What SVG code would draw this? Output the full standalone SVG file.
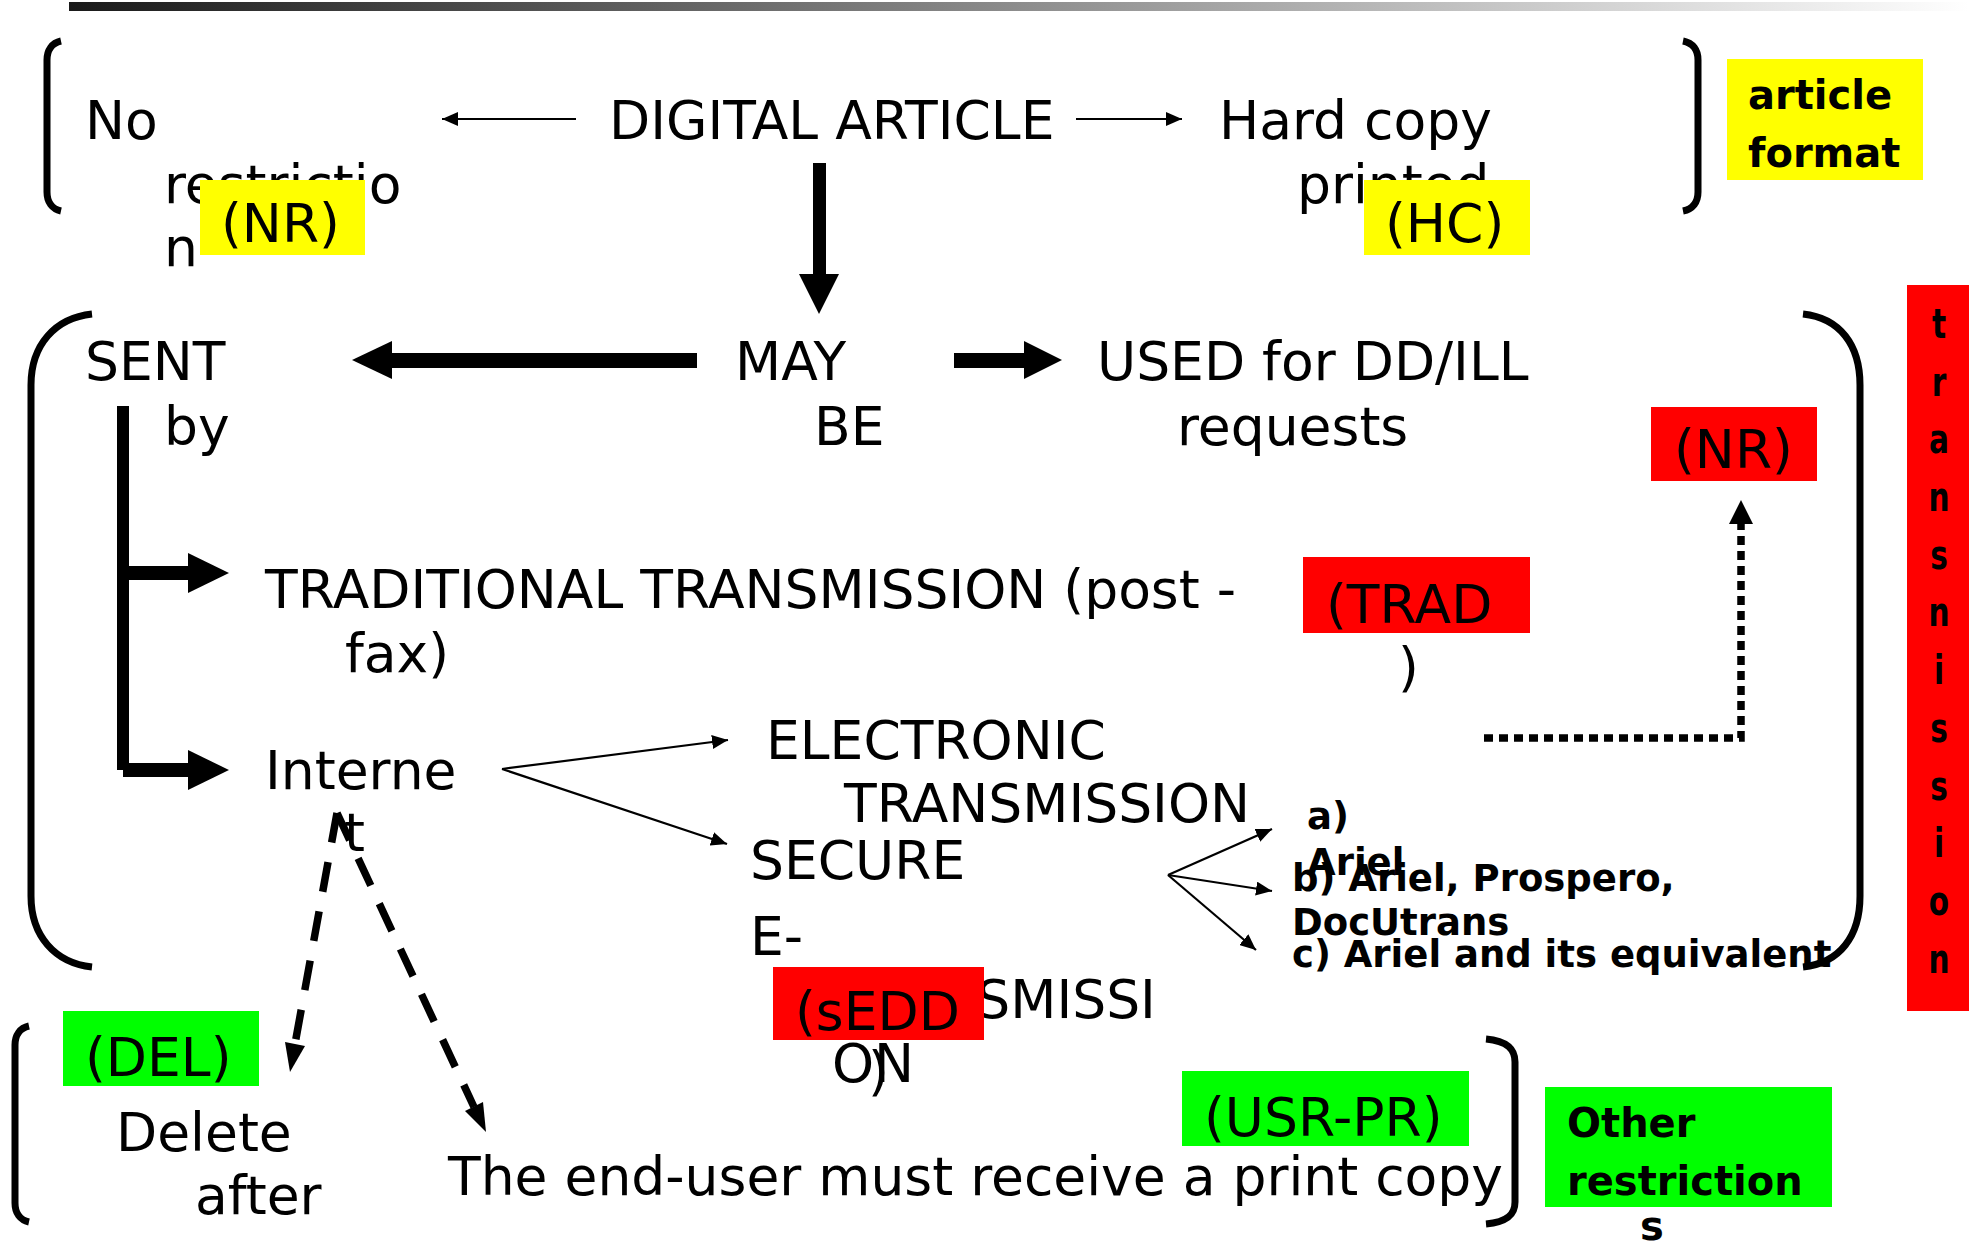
<svg xmlns="http://www.w3.org/2000/svg" width="1969" height="1247" viewBox="0 0 1969 1247">
<defs>
<linearGradient id="bar" x1="0" y1="0" x2="1" y2="0">
<stop offset="0" stop-color="#1a1a1a"/>
<stop offset="1" stop-color="#ffffff"/>
</linearGradient>
<marker id="thin" markerUnits="userSpaceOnUse" markerWidth="16" markerHeight="14" refX="16" refY="7" orient="auto">
<path d="M0,0 L16,7 L0,14 Z" fill="#000"/>
</marker>
</defs>
<style>
.t{font-family:"DejaVu Sans","Liberation Sans",sans-serif;font-size:53.5px;fill:#000}
.b{font-family:"DejaVu Sans","Liberation Sans",sans-serif;font-size:40px;font-weight:bold;fill:#000}
.s{font-family:"DejaVu Sans","Liberation Sans",sans-serif;font-size:37px;font-weight:bold;fill:#000}
.br{fill:none;stroke:#000;stroke-width:7}
.thin{fill:none;stroke:#000;stroke-width:2.2;marker-end:url(#thin)}
.dash{fill:none;stroke:#000;stroke-width:7.5;stroke-dasharray:30 20}
.y{fill:#ffff00}.r{fill:#ff0000}.g{fill:#00ff00}
</style>
<rect width="1969" height="1247" fill="#fff"/>
<rect x="69" y="2" width="1900" height="9" fill="url(#bar)"/>

<g id="brackets">
<path class="br" d="M61,41 C52,43 47,50 47,60 L47,192 C47,202 52,209 61,211"/>
<path class="br" d="M1683,41 C1693,43 1698,50 1698,60 L1698,192 C1698,202 1693,209 1683,211"/>
<path class="br" d="M92,314 C55,318 31,345 31,385 L31,896 C31,936 55,963 92,967"/>
<path class="br" d="M1803,314 C1840,318 1860,345 1860,385 L1860,896 C1860,936 1840,963 1803,967"/>
<path class="br" d="M29,1026 C20,1028 15,1035 15,1045 L15,1203 C15,1213 20,1220 29,1222"/>
<path class="br" d="M1486,1039 C1508,1041 1515,1050 1515,1062 L1515,1202 C1515,1214 1508,1222 1486,1224"/>
</g>

<g id="connectors">
<path class="thin" d="M576,119 L442,119"/>
<path class="thin" d="M1076,119 L1182,119"/>
<rect x="813" y="163" width="13" height="113" fill="#000"/>
<polygon points="799,274 839,274 819,314" fill="#000"/>
<rect x="390" y="353" width="307" height="15" fill="#000"/>
<polygon points="392,341 352,360 392,379" fill="#000"/>
<rect x="954" y="353" width="72" height="15" fill="#000"/>
<polygon points="1024,341 1062,360 1024,379" fill="#000"/>
<rect x="117" y="406" width="12" height="364" fill="#000"/>
<rect x="123" y="566" width="67" height="14" fill="#000"/>
<polygon points="188,553 229,573 188,593" fill="#000"/>
<rect x="123" y="763" width="67" height="14" fill="#000"/>
<polygon points="188,750 229,770 188,790" fill="#000"/>
<path class="thin" d="M502,769 L728,740"/>
<path class="thin" d="M502,769 L727,844"/>
<path class="thin" d="M1168,875 L1272,829"/>
<path class="thin" d="M1168,875 L1272,891"/>
<path class="thin" d="M1168,875 L1256,950"/>
<path d="M1484,738 H1741 V524" fill="none" stroke="#000" stroke-width="7.5" stroke-dasharray="9 6"/>
<polygon points="1729,524 1741,500 1753,524" fill="#000"/>
<path class="dash" d="M337,813 L295,1044"/>
<polygon points="305,1046 285,1042 290,1072" fill="#000"/>
<path class="dash" d="M337,813 L474,1107"/>
<polygon points="483,1102 465,1111 486,1132" fill="#000"/>
</g>

<g id="node-no-restriction">
<text class="t" x="85" y="139">No</text>
<text class="t" x="164" y="203">restrictio</text>
<text class="t" x="164" y="266">n</text>
<rect class="y" x="200" y="180" width="165" height="75"/>
<text class="t" x="221" y="242">(NR)</text>
</g>
<g id="node-digital-article">
<text class="t" x="609" y="139">DIGITAL ARTICLE</text>
</g>
<g id="node-hard-copy">
<text class="t" x="1219" y="139">Hard copy</text>
<text class="t" x="1297" y="203">printed</text>
<rect class="y" x="1364" y="180" width="166" height="75"/>
<text class="t" x="1385" y="242">(HC)</text>
</g>
<g id="node-article-format">
<rect class="y" x="1727" y="59" width="196" height="121"/>
<text class="b" x="1748" y="109">article</text>
<text class="b" x="1748" y="167">format</text>
</g>
<g id="node-sent-by">
<text class="t" x="85" y="380">SENT</text>
<text class="t" x="164" y="445">by</text>
</g>
<g id="node-may-be">
<text class="t" x="735" y="380">MAY</text>
<text class="t" x="814" y="445">BE</text>
</g>
<g id="node-used">
<text class="t" x="1097" y="380">USED for DD/ILL</text>
<text class="t" x="1177" y="445">requests</text>
</g>
<g id="node-nr-red">
<rect class="r" x="1651" y="407" width="166" height="74"/>
<text class="t" x="1674" y="468">(NR)</text>
</g>
<g id="node-traditional">
<text class="t" x="265" y="608">TRADITIONAL TRANSMISSION (post -</text>
<text class="t" x="345" y="672">fax)</text>
</g>
<g id="node-trad">
<rect class="r" x="1303" y="557" width="227" height="76"/>
<text class="t" x="1326" y="623">(TRAD</text>
<text class="t" x="1398" y="686">)</text>
</g>
<g id="node-internet">
<text class="t" x="265" y="789">Interne</text>
<text class="t" x="344" y="851">t</text>
</g>
<g id="node-electronic">
<text class="t" x="766" y="759">ELECTRONIC</text>
<text class="t" x="844" y="822">TRANSMISSION</text>
</g>
<g id="node-secure">
<text class="t" x="750" y="879">SECURE</text>
<text class="t" x="750" y="955">E-</text>
<text class="t" x="832" y="1018">TRANSMISSI</text>
<text class="t" x="832" y="1082">ON</text>
<rect class="r" x="773" y="967" width="211" height="73"/>
<text class="t" x="795" y="1030">(sEDD</text>
<text class="t" x="868" y="1090">)</text>
</g>
<g id="node-systems">
<text class="s" x="1307" y="829">a)</text>
<text class="s" x="1307" y="875">Ariel</text>
<text class="s" x="1292" y="891">b) Ariel, Prospero,</text>
<text class="s" x="1292" y="935">DocUtrans</text>
<text class="s" x="1292" y="967">c) Ariel and its equivalent</text>
</g>
<g id="node-transmission">
<rect class="r" x="1907" y="285" width="62" height="726"/>
<g transform="translate(1939,0) scale(0.74,1)" text-anchor="middle">
<text class="b" x="0" y="338">t</text>
<text class="b" x="0" y="396">r</text>
<text class="b" x="0" y="453">a</text>
<text class="b" x="0" y="511">n</text>
<text class="b" x="0" y="569">s</text>
<text class="b" x="0" y="626">n</text>
<text class="b" x="0" y="684">i</text>
<text class="b" x="0" y="742">s</text>
<text class="b" x="0" y="800">s</text>
<text class="b" x="0" y="857">i</text>
<text class="b" x="0" y="915">o</text>
<text class="b" x="0" y="973">n</text>
</g>
</g>
<g id="node-del">
<rect class="g" x="63" y="1011" width="196" height="75"/>
<text class="t" x="85" y="1076">(DEL)</text>
<text class="t" x="116" y="1151">Delete</text>
<text class="t" x="195" y="1214">after</text>
</g>
<g id="node-end-user">
<text class="t" x="448" y="1195">The end-user must receive a print copy</text>
<rect class="g" x="1182" y="1071" width="287" height="75"/>
<text class="t" x="1204" y="1136">(USR-PR)</text>
</g>
<g id="node-other-restrictions">
<rect class="g" x="1545" y="1087" width="287" height="120"/>
<text class="b" x="1567" y="1137">Other</text>
<text class="b" x="1567" y="1195">restriction</text>
<text class="b" x="1640" y="1240">s</text>
</g>
</svg>
